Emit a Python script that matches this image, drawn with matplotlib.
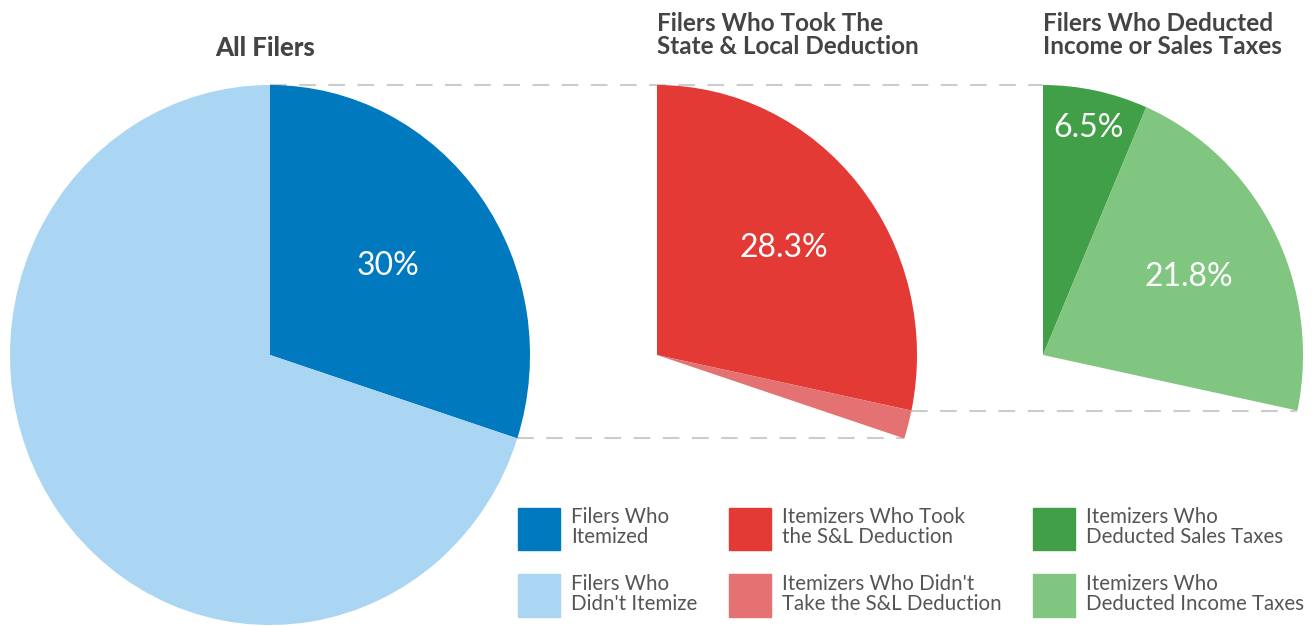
import numpy as np
import matplotlib as mpl
mpl.use("Agg")
import matplotlib.pyplot as plt
from matplotlib.patches import Patch

plt.rcParams['font.family'] = ['Lato', 'DejaVu Sans']

# data (shares of all filers)
allFilers = [0.30, 0.70]
allColors = ["#0079BF", "#AAD6F3"]
saltShares = [0.283, 0.017]
saltColors = ["#E33A36", "#E47272"]
taxShares = [0.065, 0.218]
taxColors = ["#41A047", "#80C580"]

pieTitles = ["All Filers",
             "Filers Who Took The\nState & Local Deduction",
             "Filers Who Deducted\nIncome or Sales Taxes"]
legendLabels = ["Filers Who\nItemized", "Filers Who\nDidn't Itemize",
                "Itemizers Who Took\nthe S&L Deduction", "Itemizers Who Didn't\nTake the S&L Deduction",
                "Itemizers Who\nDeducted Sales Taxes", "Itemizers Who\nDeducted Income Taxes"]

W, H = 1312, 626
sx = 0.963          # the original is a bit squeezed sideways
radius = 270
centerY = H - 355
centersX = [270 / sx, 657 / sx, 1043 / sx]

fig = plt.figure(figsize=(W / 100, H / 100), dpi=100)
ax = fig.add_axes([0, 0, 1, 1])

kw = dict(radius=radius, startangle=90, counterclock=False,
          wedgeprops=dict(linewidth=0))
ax.pie(allFilers, colors=allColors, center=(centersX[0], centerY), **kw)
ax.pie(saltShares, colors=saltColors, center=(centersX[1], centerY), normalize=False, **kw)
ax.pie(taxShares, colors=taxColors, center=(centersX[2], centerY), normalize=False, **kw)


def edgePoint(cx, frac):
    a = np.deg2rad(90 - 360 * frac)
    return cx + radius * np.cos(a), centerY + radius * np.sin(a)


def putLabel(cx, start, share, dist, text):
    a = np.deg2rad(90 - 360 * (start + share / 2))
    ax.text(cx + dist * radius * np.cos(a), centerY + dist * radius * np.sin(a), text,
            color="white", fontsize=23, ha="center", va="center")


putLabel(centersX[0], 0, allFilers[0], 0.56, "30%")
putLabel(centersX[1], 0, saltShares[0], 0.63, "28.3%")
putLabel(centersX[2], 0, taxShares[0], 0.86, "6.5%")
putLabel(centersX[2], taxShares[0], taxShares[1], 0.63, "21.8%")

# connecting dashed lines
dash = dict(color="#CCCCCC", linewidth=1.5, linestyle=(0, (8, 6)), zorder=0)
ax.plot([centersX[0], centersX[2]], [centerY + radius] * 2, **dash)
p1 = edgePoint(centersX[0], allFilers[0])
p2 = edgePoint(centersX[1], sum(saltShares))
ax.plot([p1[0], p2[0]], [p1[1], p2[1]], **dash)
p3 = edgePoint(centersX[1], saltShares[0])
p4 = edgePoint(centersX[2], sum(taxShares))
ax.plot([p3[0], p4[0]], [p3[1], p4[1]], **dash)

ax.set_aspect("auto")
ax.set_xlim(0, W / sx)
ax.set_ylim(0, H)
ax.axis("off")

# titles
fig.text(265 / W, 1 - 48 / H, pieTitles[0], ha="center", va="center",
         fontsize=18.5, fontweight=900, color="#444444")
fig.text(657 / W, 1 - 35 / H, pieTitles[1], ha="left", va="center",
         fontsize=17.5, fontweight="bold", color="#444444", linespacing=1.05)
fig.text(1043 / W, 1 - 35 / H, pieTitles[2], ha="left", va="center",
         fontsize=17.5, fontweight="bold", color="#444444", linespacing=1.05)

handles = [Patch(color=c) for c in allColors + saltColors + taxColors]
leg = fig.legend(handles, legendLabels, ncol=3, loc="upper left",
                 bbox_to_anchor=(518 / W, 1 - 507 / H), frameon=False,
                 fontsize=14.8, handlelength=2.04, handleheight=2.78,
                 handletextpad=0.53, columnspacing=1.55, labelspacing=1.15,
                 borderpad=0, borderaxespad=0)
for t in leg.get_texts():
    t.set_color("#555555")
    t.set_linespacing(1.0)

fig.savefig("out.png", dpi=100)
